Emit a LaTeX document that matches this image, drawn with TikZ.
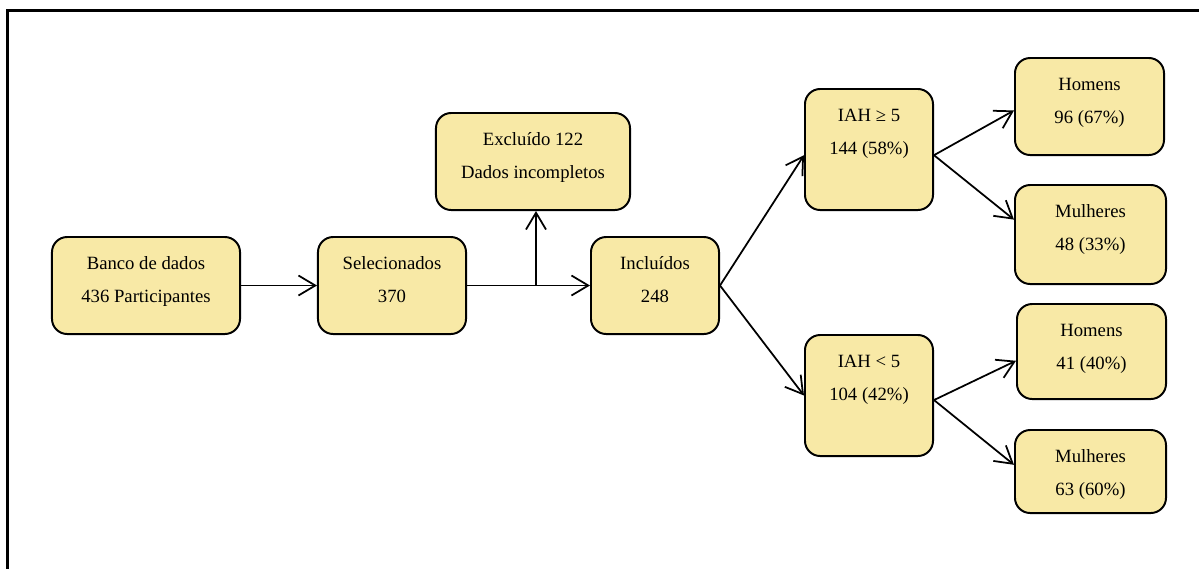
\documentclass[tikz,border=0pt]{standalone}
\usepackage{fontspec}
\setmainfont{Liberation Serif}
\newfontfamily\serifa{Liberation Serif}
\usetikzlibrary{arrows.meta,positioning}
\definecolor{caixafundo}{RGB}{248,233,166}
\tikzset{caixa/.style={draw, line width=1.4pt, rounded corners=0.38cm, fill=caixafundo, inner sep=0pt}}
\tikzset{texto/.style={align=center, inner sep=0pt, font=\serifa\fontsize{13.3}{23.5}\selectfont}}
\tikzset{seta/.style={line width=1.25pt, -{Straight Barb[length=0.42cm, width=0.5cm]}}}

\begin{document}
\begin{tikzpicture}[x=0.025cm, y=-0.025cm]
  \useasboundingbox (0,0) rectangle (1199,568);

  % moldura
  \draw[line width=1.6pt] (1210,10.5) -| (7.5,580);

  \node[caixa, minimum width=4.7cm, minimum height=2.425cm] (banco) at (146,285.5) {};
  \node[caixa, minimum width=3.7cm, minimum height=2.425cm] (selec) at (392,285.5) {};
  \node[caixa, minimum width=4.85cm, minimum height=2.425cm] (exclu) at (533,161.5) {};
  \node[caixa, minimum width=3.2cm, minimum height=2.425cm] (inclu) at (655,285.5) {};
  \node[caixa, minimum width=3.2cm, minimum height=3.025cm] (iahmaior) at (869,149.5) {};
  \node[caixa, minimum width=3.2cm, minimum height=3.025cm] (iahmenor) at (869,395.5) {};
  \node[caixa, minimum width=3.725cm, minimum height=2.425cm] (homensA) at (1089.5,106.5) {};
  \node[caixa, minimum width=3.775cm, minimum height=2.475cm] (mulheresA) at (1090.5,234.5) {};
  \node[caixa, minimum width=3.725cm, minimum height=2.375cm] (homensB) at (1091.5,351.5) {};
  \node[caixa, minimum width=3.775cm, minimum height=2.075cm] (mulheresB) at (1090.5,471.5) {};

  \node[texto, below=0.515cm of banco.north] (bancotxt) {Banco de dados\\436 Participantes};
  \node[texto, below=0.515cm of selec.north] (selectxt) {Selecionados\\370};
  \node[texto, below=0.515cm of exclu.north] (exclutxt) {Excluído 122\\Dados incompletos};
  \node[texto, below=0.515cm of inclu.north] (inclutxt) {Incluídos\\248};
  \node[texto, below=0.515cm of iahmaior.north] (iahmaiortxt) {IAH ≥ 5\\144 (58\%)};
  \node[texto, below=0.515cm of iahmenor.north] (iahmenortxt) {IAH < 5\\104 (42\%)};
  \node[texto, below=0.515cm of homensA.north] (homensAtxt) {Homens\\96 (67\%)};
  \node[texto, below=0.515cm of mulheresA.north] (mulheresAtxt) {Mulheres\\48 (33\%)};
  \node[texto, below=0.515cm of homensB.north] (homensBtxt) {Homens\\41 (40\%)};
  \node[texto, below=0.515cm of mulheresB.north] (mulheresBtxt) {Mulheres\\63 (60\%)};

  \coordinate (ramo) at (536,285.5);

  \draw[seta] (banco.east) -- (selec.west);
  \draw[seta] (selec.east) -- (inclu.west);
  \draw[seta] (ramo) -- (ramo |- exclu.south);
  \draw[seta] (inclu.east) -- (iahmaior.185);
  \draw[seta] (inclu.east) -- (iahmenor.west);
  \draw[seta] (iahmaior.355) -- (homensA.183);
  \draw[seta] (iahmaior.355) -- (mulheresA.169);
  \draw[seta] (iahmenor.356) -- (homensB.187);
  \draw[seta] (iahmenor.356) -- (mulheresB.175);

\end{tikzpicture}
\end{document}
